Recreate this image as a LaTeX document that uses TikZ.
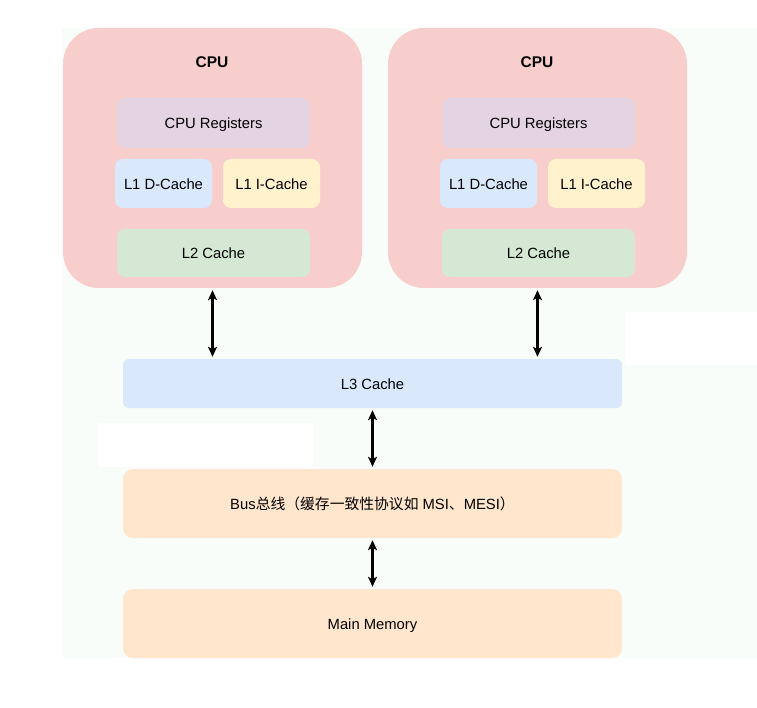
\documentclass[tikz,border=0pt]{standalone}
\usepackage{fontspec}
\setmainfont{Liberation Sans}
\newfontfamily\cjk{Noto Sans CJK SC}
\usetikzlibrary{arrows.meta}
\definecolor{bgc}{HTML}{F8FDF9}
\definecolor{cpuc}{HTML}{F8CECC}
\definecolor{regc}{HTML}{E3D3E3}
\definecolor{bluec}{HTML}{DAE8FC}
\definecolor{yelc}{HTML}{FFF2CC}
\definecolor{grnc}{HTML}{D5E8D4}
\definecolor{orgc}{HTML}{FFE6CC}
\begin{document}
\begin{tikzpicture}[x=1pt,y=-1pt,
  txt/.style={font=\fontsize{14.8}{17}\selectfont, text=black},
  box/.style={rectangle, rounded corners=8pt, inner sep=0pt, draw=none, txt, text height=12pt, text depth=0pt},
  cpubox/.style={rectangle, rounded corners=36pt, fill=cpuc, draw=none, minimum width=299pt, minimum height=260pt},
  tip/.style={Stealth[length=10pt,width=9pt,inset=2.5pt]},
  arr/.style={line width=2.2pt, {Stealth[length=10pt,width=9pt,inset=2.5pt]}-{Stealth[length=10pt,width=9pt,inset=2.5pt]}, shorten <=2pt, shorten >=2pt}
]
\useasboundingbox (0,0) rectangle (757,708);
\fill[white] (0,0) rectangle (757,708);
\fill[bgc] (62,28) rectangle (757,658);
\fill[white] (625,312) rectangle (757,365);
\fill[white] (98,423) rectangle (313,467);

% left CPU
\node[cpubox] (cpuA) at (212.5,158) {};
\node[txt, font=\fontsize{15.5}{18}\selectfont\bfseries] (cpuAt) at (212,62) {CPU};
\node[box, fill=regc, minimum width=193pt, minimum height=50pt] (regA) at (213.5,123) {CPU Registers};
\node[box, fill=bluec, minimum width=97pt, minimum height=49pt] (l1dA) at (163.5,183.5) {L1 D-Cache};
\node[box, fill=yelc, minimum width=97pt, minimum height=49pt] (l1iA) at (271.5,183.5) {L1 I-Cache};
\node[box, fill=grnc, minimum width=193pt, minimum height=48pt] (l2A) at (213.5,253) {L2 Cache};

% right CPU
\node[cpubox] (cpuB) at (537.5,158) {};
\node[txt, font=\fontsize{15.5}{18}\selectfont\bfseries] (cpuBt) at (537,62) {CPU};
\node[box, fill=regc, minimum width=193pt, minimum height=50pt] (regB) at (538.5,123) {CPU Registers};
\node[box, fill=bluec, minimum width=97pt, minimum height=49pt] (l1dB) at (488.5,183.5) {L1 D-Cache};
\node[box, fill=yelc, minimum width=97pt, minimum height=49pt] (l1iB) at (596.5,183.5) {L1 I-Cache};
\node[box, fill=grnc, minimum width=193pt, minimum height=48pt] (l2B) at (538.5,253) {L2 Cache};

% shared levels
\node[box, fill=bluec, rounded corners=6pt, minimum width=499pt, minimum height=49pt] (l3) at (372.5,383.5) {L3 Cache};
\node[box, fill=orgc, rounded corners=10pt, minimum width=499pt, minimum height=69pt] (bus) at (372.5,503.5) {Bus{\cjk 总线（缓存一致性协议如} MSI{\cjk 、}MESI{\cjk ）}};
\node[box, fill=orgc, rounded corners=10pt, minimum width=499pt, minimum height=69pt] (mem) at (372.5,623.5) {Main Memory};

% connectors
\draw[arr] (cpuA.south) -- (cpuA.south |- l3.north);
\draw[arr] (cpuB.south) -- (cpuB.south |- l3.north);
\draw[arr] (l3.south) -- (bus.north);
\draw[arr] (bus.south) -- (mem.north);
\end{tikzpicture}
\end{document}
